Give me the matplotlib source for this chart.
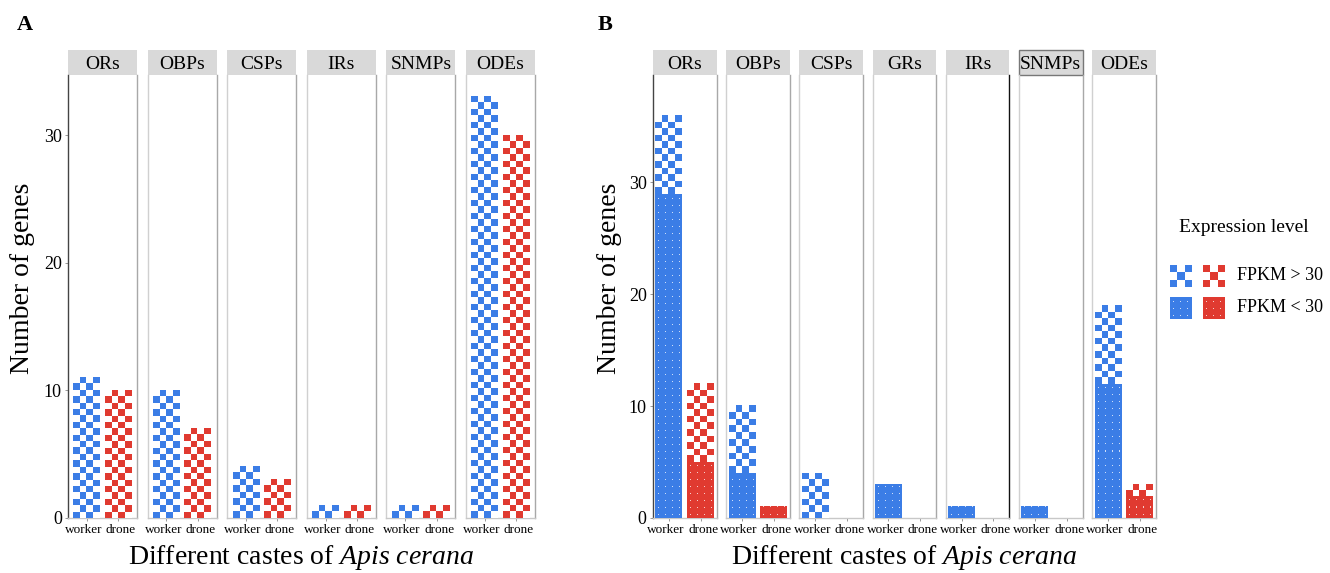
import numpy as np
import matplotlib
matplotlib.use('Agg')
import matplotlib.pyplot as plt
from matplotlib.patches import Rectangle
from matplotlib.colors import to_rgba
from matplotlib.transforms import ScaledTranslation

plt.rcParams['font.family'] = ['Liberation Serif', 'DejaVu Serif']
plt.rcParams['mathtext.fontset'] = 'custom'
plt.rcParams['mathtext.rm'] = 'Liberation Serif'
plt.rcParams['mathtext.it'] = 'Liberation Serif:italic'

# panel A: all genes, FPKM > 30 only
fam_a = ['ORs', 'OBPs', 'CSPs', 'IRs', 'SNMPs', 'ODEs']
a_worker = [11, 10, 4, 1, 1, 33]
a_drone = [10, 7, 3, 1, 1, 30]

# panel B: split by expression level
fam_b = ['ORs', 'OBPs', 'CSPs', 'GRs', 'IRs', 'SNMPs', 'ODEs']
b_worker_low = [29, 4, 0, 3, 1, 1, 12]
b_worker_high = [7, 6, 4, 0, 0, 0, 7]
b_drone_low = [5, 1, 0, 0, 0, 0, 2]
b_drone_high = [7, 0, 0, 0, 0, 0, 1]

castes = ['worker', 'drone']
BLUE = '#3B7DE6'
RED = '#E03A30'

W, H = 1330, 573
fig = plt.figure(figsize=(W / 100, H / 100), dpi=100)


def px_axes(left, top, width, height):
    return fig.add_axes([left / W, 1 - (top + height) / H, width / W, height / H])


def checker_img(color, w_px, h_px, cell=6.5):
    nc = max(1, int(round(w_px / cell)))
    nr = max(1, int(round(h_px / cell)))
    i, j = np.indices((nr, nc))
    img = np.ones((nr, nc, 4))
    img[(nr - 1 - i + j) % 2 == 0] = to_rgba(color)
    return img


def dots_img(color, w_px, h_px, step=7):
    w = max(1, int(round(w_px)))
    h = max(1, int(round(h_px)))
    c = np.array(to_rgba(color))
    img = np.tile(c, (h, w, 1))
    light = 0.25 * c + 0.75
    light[3] = 1
    if h > 4:
        img[h - 4::-step, 3::step] = light
    return img


def fill_patch(ax, x0, x1, y0, y1, kind, color, flip=False):
    (px0, py0), (px1, py1) = ax.transData.transform([(x0, y0), (x1, y1)])
    w_px, h_px = abs(px1 - px0), abs(py1 - py0)
    if kind == 'high':
        img = checker_img(color, w_px, h_px)
    else:
        img = dots_img(color, w_px, h_px)
    ext = (x0, x1, y1, y0) if flip else (x0, x1, y0, y1)
    ax.imshow(img, extent=ext, aspect='auto', interpolation='nearest',
              origin='upper', zorder=3)


def draw_facet(ax, name, low, high, top, xlim, first, right_col='#A8A8A8', strip_edge='none'):
    ax.set_xlim(*xlim)
    ax.set_ylim(0, top)
    colors = [BLUE, RED]
    bars_low = ax.bar([1, 2], low, width=0.85, color=colors, zorder=2)
    bars_high = ax.bar([1, 2], high, bottom=low, width=0.85, color=colors, zorder=2)
    for bars, kind in [(bars_low, 'low'), (bars_high, 'high')]:
        for rect, c in zip(bars, colors):
            if rect.get_height() <= 0:
                continue
            x0 = rect.get_x()
            y0 = rect.get_y()
            fill_patch(ax, x0, x0 + rect.get_width(), y0, y0 + rect.get_height(), kind, c)
    ax.set_xlim(*xlim)
    ax.set_ylim(0, top)

    ax.spines['top'].set_visible(False)
    ax.spines['bottom'].set_color('#C8C8C8')
    ax.spines['right'].set_color(right_col)
    ax.spines['left'].set_color('#444444' if first else '#D0D0D0')
    for s in ax.spines.values():
        s.set_linewidth(1.0)

    ax.set_xticks([1, 2], castes)
    ax.tick_params(axis='x', length=2.5, width=0.6, color='#888888', pad=1.5, labelsize=9.5)
    tl = ax.get_xticklabels()
    tl[0].set_transform(tl[0].get_transform() + ScaledTranslation(-3 / 100, 0, fig.dpi_scale_trans))
    tl[1].set_transform(tl[1].get_transform() + ScaledTranslation(2.5 / 100, 0, fig.dpi_scale_trans))
    if first:
        ax.set_yticks([0, 10, 20, 30])
        ax.tick_params(axis='y', length=2.5, width=0.6, color='#888888', pad=2, labelsize=13)
    else:
        ax.tick_params(axis='y', left=False, labelleft=False)

    h_strip = 25 / 443
    ax.add_patch(Rectangle((0, 1), 1, h_strip, transform=ax.transAxes, clip_on=False,
                           fc='#D9D9D9', ec=strip_edge, lw=1))
    ax.text(0.5, 1 + h_strip / 2, name, transform=ax.transAxes, ha='center',
            va='center_baseline', fontsize=14)


TOP_PX, HEIGHT_PX = 75, 443

# panel A
for k, name in enumerate(fam_a):
    ax = px_axes(68 + k * 79.6, TOP_PX, 69, HEIGHT_PX)
    draw_facet(ax, name, [0, 0], [a_worker[k], a_drone[k]], 34.7, (0.4, 2.6), k == 0)

# panel B
for k, name in enumerate(fam_b):
    ax = px_axes(653 + k * 73.2, TOP_PX, 63.5, HEIGHT_PX)
    rc = '#111111' if name == 'IRs' else '#A8A8A8'
    se = '#777777' if name == 'SNMPs' else 'none'
    draw_facet(ax, name, [b_worker_low[k], b_drone_low[k]],
               [b_worker_high[k], b_drone_high[k]], 39.6, (0.5, 2.5), k == 0, rc, se)

# labels
fig.text(17 / W, 1 - 25 / H, 'A', fontsize=16, fontweight='bold', va='center')
fig.text(598 / W, 1 - 25 / H, 'B', fontsize=16, fontweight='bold', va='center')
for xc in [23, 609]:
    fig.text(xc / W, 1 - 278 / H, 'Number of genes', rotation=90, fontsize=20,
             ha='center', va='center')
for xc in [301, 904]:
    fig.text(xc / W, 1 - 557 / H, 'Different castes of $\\mathit{Apis\\ cerana}$',
             fontsize=20, ha='center', va='center')

# legend
lax = px_axes(1160, 200, 170, 130)
lax.set_xlim(1160, 1330)
lax.set_ylim(330, 200)
lax.axis('off')
rows = [(265, 287, 'high', 'FPKM > 30'), (297, 319, 'low', 'FPKM < 30')]
for y0, y1, kind, label in rows:
    for x0, c in [(1170, BLUE), (1203, RED)]:
        fill_patch(lax, x0, x0 + 22, y0, y1, kind, c, flip=True)
    lax.text(1237, (y0 + y1) / 2, label, fontsize=13, va='center')
lax.set_xlim(1160, 1330)
lax.set_ylim(330, 200)
fig.text(1244 / W, 1 - 227 / H, 'Expression level', fontsize=14, ha='center', va='center')

fig.savefig('out.png', dpi=100)
